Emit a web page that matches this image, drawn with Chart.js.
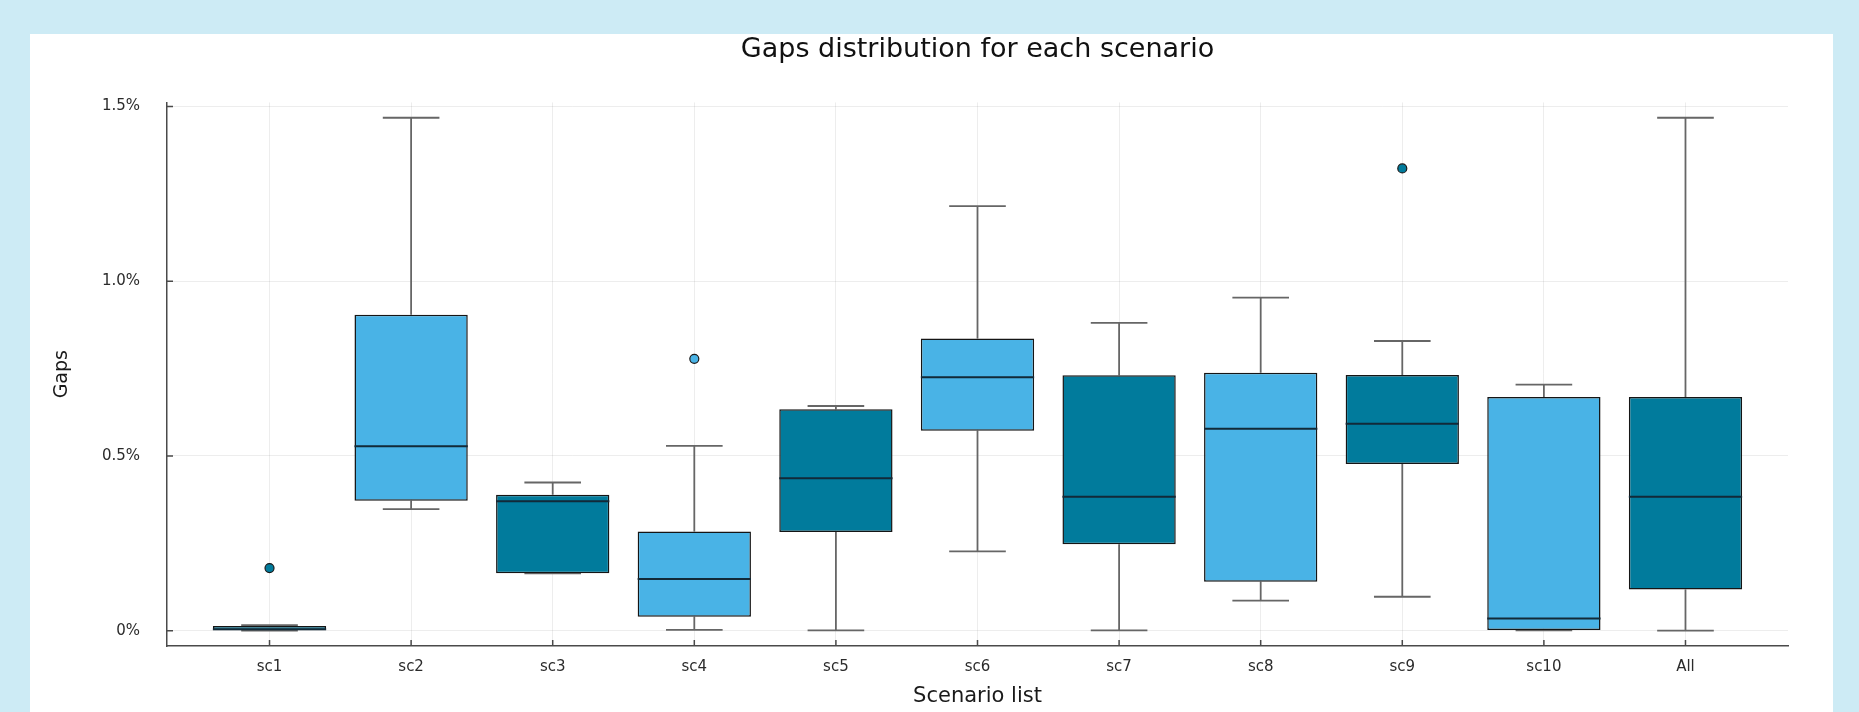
<!DOCTYPE html>
<html>
<head>
<meta charset="utf-8">
<title>Gaps distribution for each scenario</title>
<script src="https://cdn.jsdelivr.net/npm/chart.js@4.4.1/dist/chart.umd.min.js"></script>
<style>
  html, body { margin: 0; padding: 0; background: #cdebf5; width: 1859px; height: 712px; overflow: hidden; }
  #panel { position: absolute; left: 30px; top: 34px; width: 1803px; height: 678px; background: #ffffff; }
</style>
</head>
<body>
<div id="panel"><canvas id="gapsChart"></canvas></div>
<script>
// Box plot values (gap in %)
const categories = ['sc1', 'sc2', 'sc3', 'sc4', 'sc5', 'sc6', 'sc7', 'sc8', 'sc9', 'sc10', 'All'];
const lowerWhisker = [0.000, 0.348, 0.164, 0.002, 0.001, 0.227, 0.001, 0.086, 0.097, 0.001, 0.000];
const q1 =           [0.000, 0.372, 0.164, 0.040, 0.282, 0.572, 0.247, 0.140, 0.477, 0.002, 0.118];
const median =       [0.004, 0.528, 0.370, 0.148, 0.436, 0.725, 0.383, 0.578, 0.592, 0.035, 0.383];
const q3 =           [0.013, 0.904, 0.389, 0.284, 0.634, 0.836, 0.731, 0.738, 0.732, 0.669, 0.669];
const upperWhisker = [0.016, 1.468, 0.424, 0.529, 0.643, 1.215, 0.881, 0.953, 0.829, 0.704, 1.468];

// Outliers
const outlierCats = ['sc1', 'sc4', 'sc9'];
const outlierVals = [0.179, 0.778, 1.323];

const yTickValues = [0, 0.5, 1.0, 1.5];

const DARK = '#017b9c';
const LIGHT = '#49b3e6';
const CAP = 0.2;      // half width of whisker caps (x units)
const HALF_BOX = 0.4; // half width of a box (x units)

function boxColor(i) {
  return i % 2 === 0 ? DARK : LIGHT;
}

// Build whisker segments, separated by gaps
const whiskerPoints = [];
categories.forEach((c, i) => {
  const x = i + 1;
  whiskerPoints.push({ x: x, y: q3[i] }, { x: x, y: upperWhisker[i] }, { x: x, y: null });
  whiskerPoints.push({ x: x, y: q1[i] }, { x: x, y: lowerWhisker[i] }, { x: x, y: null });
  whiskerPoints.push({ x: x - CAP, y: upperWhisker[i] }, { x: x + CAP, y: upperWhisker[i] }, { x: x, y: null });
  whiskerPoints.push({ x: x - CAP, y: lowerWhisker[i] }, { x: x + CAP, y: lowerWhisker[i] }, { x: x, y: null });
});

const medianPoints = [];
categories.forEach((c, i) => {
  const x = i + 1;
  medianPoints.push({ x: x - HALF_BOX, y: median[i] }, { x: x + HALF_BOX, y: median[i] }, { x: x, y: null });
});

const boxes = categories.map((c, i) => ({ x: i + 1, y: [q1[i], q3[i]] }));
const outliers = outlierCats.map((c, k) => ({ x: categories.indexOf(c) + 1, y: outlierVals[k] }));

// Julia style ticks pointing into the plot
const insideTicks = {
  id: 'insideTicks',
  afterDraw(chart) {
    const { ctx, chartArea, scales } = chart;
    ctx.save();
    ctx.strokeStyle = '#4a4a4a';
    ctx.lineWidth = 1.5;
    ctx.beginPath();
    scales.x.ticks.forEach(t => {
      const px = scales.x.getPixelForValue(t.value);
      ctx.moveTo(px, chartArea.bottom);
      ctx.lineTo(px, chartArea.bottom - 6);
    });
    scales.y.ticks.forEach(t => {
      const py = scales.y.getPixelForValue(t.value);
      ctx.moveTo(chartArea.left, py);
      ctx.lineTo(chartArea.left + 6, py);
    });
    ctx.stroke();
    ctx.restore();
  }
};

document.addEventListener('DOMContentLoaded', () => {
  const ctx = document.getElementById('gapsChart').getContext('2d');
  new Chart(ctx, {
    type: 'bar',
    data: {
      datasets: [
        {
          type: 'line',
          label: 'median',
          data: medianPoints,
          borderColor: '#122a38',
          borderWidth: 2,
          pointRadius: 0,
          spanGaps: false,
          order: 0
        },
        {
          type: 'line',
          label: 'outliers',
          data: outliers,
          showLine: false,
          pointRadius: 4.5,
          pointBorderWidth: 1.2,
          pointBorderColor: '#1a1a1a',
          pointBackgroundColor: outliers.map(p => boxColor(p.x - 1)),
          order: 0
        },
        {
          label: 'boxes',
          data: boxes,
          backgroundColor: categories.map((c, i) => boxColor(i)),
          borderColor: '#151515',
          borderWidth: 1.5,
          borderSkipped: false,
          categoryPercentage: 1.0,
          barPercentage: 0.8,
          order: 1
        },
        {
          type: 'line',
          label: 'whiskers',
          data: whiskerPoints,
          borderColor: '#666666',
          borderWidth: 1.8,
          pointRadius: 0,
          spanGaps: false,
          order: 2
        }
      ]
    },
    options: {
      responsive: true,
      maintainAspectRatio: false,
      animation: false,
      layout: { padding: { left: 0, right: 45, top: 0, bottom: 0 } },
      scales: {
        x: {
          type: 'linear',
          min: 0.276,
          max: 11.724,
          offset: false,
          afterBuildTicks: (scale) => {
            scale.ticks = categories.map((c, i) => ({ value: i + 1 }));
          },
          afterFit: (scale) => { scale.height = 66; },
          ticks: {
            autoSkip: false,
            maxRotation: 0,
            padding: 12,
            color: '#2b2b2b',
            font: { family: 'DejaVu Sans', size: 15 },
            callback: (v) => categories[Math.round(v) - 1]
          },
          grid: { offset: false, color: 'rgba(0,0,0,0.07)', lineWidth: 1, drawTicks: false },
          border: { display: true, color: '#4a4a4a', width: 1.5 },
          title: {
            display: true,
            text: 'Scenario list',
            color: '#1a1a1a',
            font: { family: 'DejaVu Sans', size: 21 },
            padding: { top: 0, bottom: 3 }
          }
        },
        y: {
          type: 'linear',
          min: -0.044,
          max: 1.512,
          afterBuildTicks: (scale) => {
            scale.ticks = yTickValues.map(v => ({ value: v }));
          },
          afterFit: (scale) => { scale.width = 137; },
          ticks: {
            padding: 27,
            color: '#2b2b2b',
            font: { family: 'DejaVu Sans', size: 15 },
            callback: (v) => (v === 0 ? '0%' : v.toFixed(1) + '%')
          },
          grid: { color: 'rgba(0,0,0,0.07)', lineWidth: 1, drawTicks: false },
          border: { display: true, color: '#4a4a4a', width: 1.5 },
          title: {
            display: true,
            text: 'Gaps',
            color: '#1a1a1a',
            font: { family: 'DejaVu Sans', size: 19 },
            padding: { top: 21, bottom: 0 }
          }
        }
      },
      plugins: {
        legend: { display: false },
        tooltip: { enabled: false },
        title: {
          display: true,
          text: 'Gaps distribution for each scenario',
          fullSize: false,
          color: '#111111',
          font: { family: 'DejaVu Sans', size: 27, weight: 'normal' },
          padding: { top: 0, bottom: 36 }
        }
      }
    },
    plugins: [insideTicks]
  });
});
</script>
</body>
</html>
